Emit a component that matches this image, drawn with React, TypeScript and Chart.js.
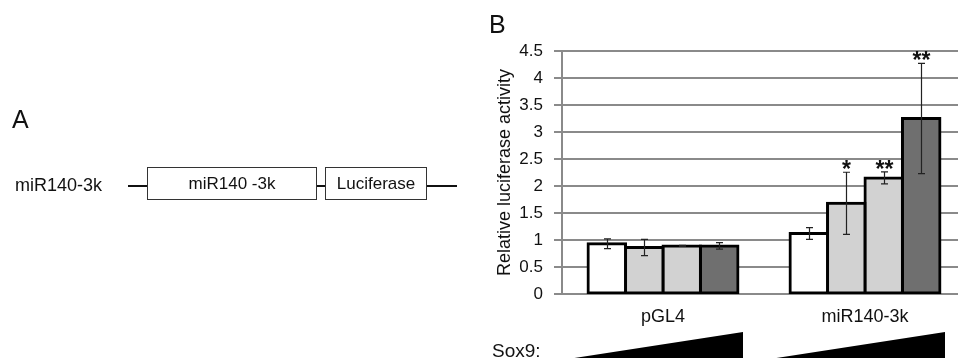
import React, { useEffect, useRef } from 'react';
import { Chart, registerables } from 'chart.js';

Chart.register(...registerables);

// ---- data ----
const categories = ['pGL4', 'miR140-3k'];
const dose1 = [0.93, 1.12];
const dose2 = [0.86, 1.68];
const dose3 = [0.89, 2.15];
const dose4 = [0.89, 3.25];
const err1 = [0.09, 0.11];
const err2 = [0.15, 0.575];
const err3 = [0.01, 0.11];
const err4 = [0.06, 1.02];
const sig1 = ['', ''];
const sig2 = ['', '*'];
const sig3 = ['', '**'];
const sig4 = ['', '**'];
const yTickLabels = ['0', '0.5', '1', '1.5', '2', '2.5', '3', '3.5', '4', '4.5'];
const yMin = 0;
const yMax = 4.5;
const yStep = 0.5;

const series = [dose1, dose2, dose3, dose4];
const errors = [err1, err2, err3, err4];
const sigs = [sig1, sig2, sig3, sig4];
const barColors = ['#ffffff', '#d2d2d2', '#d2d2d2', '#6f6f6f'];

const FONT = "'Liberation Sans', Arial, sans-serif";
const GRID = '#8a8a8a';

const overlayPlugin = {
  id: 'overlay',
  afterDatasetsDraw(chart: any) {
    const ctx = chart.ctx;
    const y = chart.scales.y;
    series.forEach((vals, i) => {
      const meta = chart.getDatasetMeta(i);
      meta.data.forEach((bar: any, j: number) => {
        const v = vals[j];
        const e = errors[i][j];
        const x = Math.round(bar.x) + 0.5;
        const top = y.getPixelForValue(v + e);
        const bot = y.getPixelForValue(v - e);
        ctx.save();
        ctx.strokeStyle = '#222';
        ctx.lineWidth = 1.2;
        ctx.beginPath();
        ctx.moveTo(x, top);
        ctx.lineTo(x, bot);
        ctx.moveTo(x - 3.5, top);
        ctx.lineTo(x + 3.5, top);
        ctx.moveTo(x - 3.5, bot);
        ctx.lineTo(x + 3.5, bot);
        ctx.stroke();
        const s = sigs[i][j];
        if (s) {
          ctx.font = `bold 23px ${FONT}`;
          ctx.textAlign = 'center';
          ctx.textBaseline = 'alphabetic';
          ctx.fillStyle = '#111';
          ctx.fillText(s, x, top + 5);
        }
        ctx.restore();
      });
    });
  },
  afterDraw(chart: any) {
    const ctx = chart.ctx;
    const xs = chart.scales.x;
    const h = chart.height;
    ctx.save();
    ctx.fillStyle = '#000';
    categories.forEach((_, j) => {
      const c = xs.getPixelForValue(j);
      ctx.beginPath();
      ctx.moveTo(c - 95, h + 1);
      ctx.lineTo(c + 80, h - 26);
      ctx.lineTo(c + 80, h + 1);
      ctx.closePath();
      ctx.fill();
    });
    ctx.restore();
  },
};

function BarChart() {
  const ref = useRef<HTMLCanvasElement>(null);
  useEffect(() => {
    if (!ref.current) return;
    const chart = new Chart(ref.current, {
      type: 'bar',
      data: {
        labels: categories,
        datasets: series.map((vals, i) => ({
          label: `dose ${i + 1}`,
          data: vals,
          backgroundColor: barColors[i],
          borderColor: '#000',
          borderWidth: 3,
          borderSkipped: false,
          inflateAmount: 1.5,
          barPercentage: 1,
          categoryPercentage: 0.742,
        })),
      },
      options: {
        animation: false,
        responsive: false,
        devicePixelRatio: 1,
        events: [],
        layout: { padding: { left: 490, top: 51, right: 9, bottom: 0 } },
        plugins: { legend: { display: false }, tooltip: { enabled: false }, title: { display: false } },
        scales: {
          x: {
            grid: { display: false, drawTicks: false },
            border: { display: true, color: GRID, width: 2 },
            ticks: { font: { family: FONT, size: 18 }, color: '#111', padding: 12 },
            afterFit: (s: any) => { s.height = 64; },
          },
          y: {
            min: yMin,
            max: yMax,
            ticks: {
              stepSize: yStep,
              font: { family: FONT, size: 17 },
              color: '#111',
              padding: 11,
              callback: (_v: any, idx: number) => yTickLabels[idx],
            },
            grid: { color: GRID, lineWidth: 2, tickLength: 8, drawTicks: true },
            border: { display: true, color: GRID, width: 2 },
            title: {
              display: true,
              text: 'Relative luciferase activity',
              font: { family: FONT, size: 18 },
              color: '#111',
              padding: { top: 4, bottom: 0 },
            },
            afterFit: (s: any) => { s.width = 72; },
          },
        },
      },
      plugins: [overlayPlugin],
    });
    return () => chart.destroy();
  }, []);
  return (
    <canvas ref={ref} width={975} height={358}
      style={{ position: 'absolute', left: 0, top: 0, width: 975, height: 358 }} />
  );
}

const abs = (o: React.CSSProperties): React.CSSProperties => ({ position: 'absolute', ...o });

export default function App() {
  return (
    <div style={{ position: 'fixed', left: 0, top: 0, width: 958, height: 358, overflow: 'hidden', background: '#fff', fontFamily: FONT, color: '#111' }}>
      <BarChart />
      {/* Panel A */}
      <div style={abs({ left: 12, top: 107, fontSize: 25, lineHeight: '25px' })}>A</div>
      <div style={abs({ left: 15, top: 176, fontSize: 18, lineHeight: '18px' })}>miR140-3k</div>
      <div style={abs({ left: 128, top: 185, width: 19, height: 2, background: '#111' })} />
      <div style={abs({ left: 147, top: 167, width: 170, height: 33, boxSizing: 'border-box', border: '1px solid #333', display: 'flex', alignItems: 'center', justifyContent: 'center', fontSize: 17 })}>miR140 -3k</div>
      <div style={abs({ left: 317, top: 185, width: 8, height: 2, background: '#111' })} />
      <div style={abs({ left: 325, top: 167, width: 102, height: 33, boxSizing: 'border-box', border: '1px solid #333', display: 'flex', alignItems: 'center', justifyContent: 'center', fontSize: 17 })}>Luciferase</div>
      <div style={abs({ left: 427, top: 185, width: 30, height: 2, background: '#111' })} />
      {/* Panel B extras */}
      <div style={abs({ left: 489, top: 12, fontSize: 25, lineHeight: '25px' })}>B</div>
      <div style={abs({ left: 492, top: 341, fontSize: 19, lineHeight: '19px' })}>Sox9:</div>
    </div>
  );
}
